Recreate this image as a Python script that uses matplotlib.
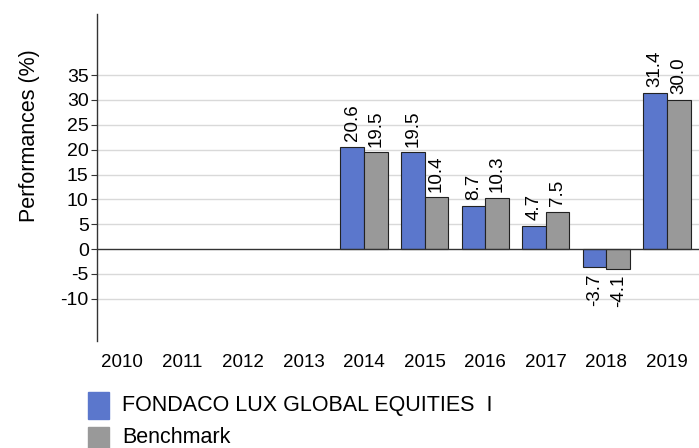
import matplotlib.pyplot as plt
import numpy as np
from matplotlib.patches import Rectangle

years = ['2010', '2011', '2012', '2013', '2014', '2015', '2016', '2017', '2018', '2019']
fund = [np.nan, np.nan, np.nan, np.nan, 20.6, 19.5, 8.7, 4.7, -3.7, 31.4]
bench = [np.nan, np.nan, np.nan, np.nan, 19.5, 10.4, 10.3, 7.5, -4.1, 30.0]
yticks = [-10, -5, 0, 5, 10, 15, 20, 25, 30, 35]

fund_name = 'FONDACO LUX GLOBAL EQUITIES  I'
bench_name = 'Benchmark'
blue = '#5b77cc'
grey = '#999999'

plt.rcParams['font.family'] = 'Liberation Sans'

fig = plt.figure(figsize=(6.99, 4.48), dpi=100)
ax = fig.add_axes([97/699, 1-341/448, 1-97/699, (341-14)/448])

x = np.arange(len(years))
w = 0.39
b1 = ax.bar(x - w/2, fund, w, color=blue, edgecolor='#222222', linewidth=0.8, zorder=3)
b2 = ax.bar(x + w/2, bench, w, color=grey, edgecolor='#222222', linewidth=0.8, zorder=3)

def lab(vals):
    return ['' if np.isnan(v) else f'{v:.1f}' for v in vals]

ax.bar_label(b1, labels=lab(fund), rotation=90, padding=4, fontsize=13.5)
ax.bar_label(b2, labels=lab(bench), rotation=90, padding=4, fontsize=13.5)

ax.set_ylim(-18.5, 47.3)
ax.set_xlim(-0.41, 9.53)
ax.set_yticks(yticks)
ax.set_yticklabels([str(t) for t in yticks], fontsize=14)
ax.set_xticks(x)
ax.set_xticklabels(years, fontsize=13.5)
ax.tick_params(axis='x', length=0, pad=9)
ax.tick_params(axis='y', length=4, width=0.8, color='#333333', pad=2)

for t in yticks:
    if t != 0:
        ax.axhline(t, color='#d9d9d9', linewidth=1, zorder=1)
ax.axhline(0, color='#333333', linewidth=1, zorder=4)

for s in ['top', 'right', 'bottom']:
    ax.spines[s].set_visible(False)
ax.spines['left'].set_color('#333333')
ax.spines['left'].set_linewidth(1)

fig.text(30/699, 1-136/448, 'Performances (%)', rotation=90, fontsize=15.5,
         ha='center', va='center')

# legend below the chart
fig.patches.append(Rectangle((88/699, 1-419/448), 21/699, 27/448,
                             transform=fig.transFigure, color=blue))
fig.text(122/699, 1-405/448, fund_name, fontsize=15.5, va='center')
fig.patches.append(Rectangle((88/699, 1-452/448), 21/699, 25/448,
                             transform=fig.transFigure, color=grey))
fig.text(122/699, 1-437/448, bench_name, fontsize=15.5, va='center')

plt.savefig('out.png', dpi=100)
